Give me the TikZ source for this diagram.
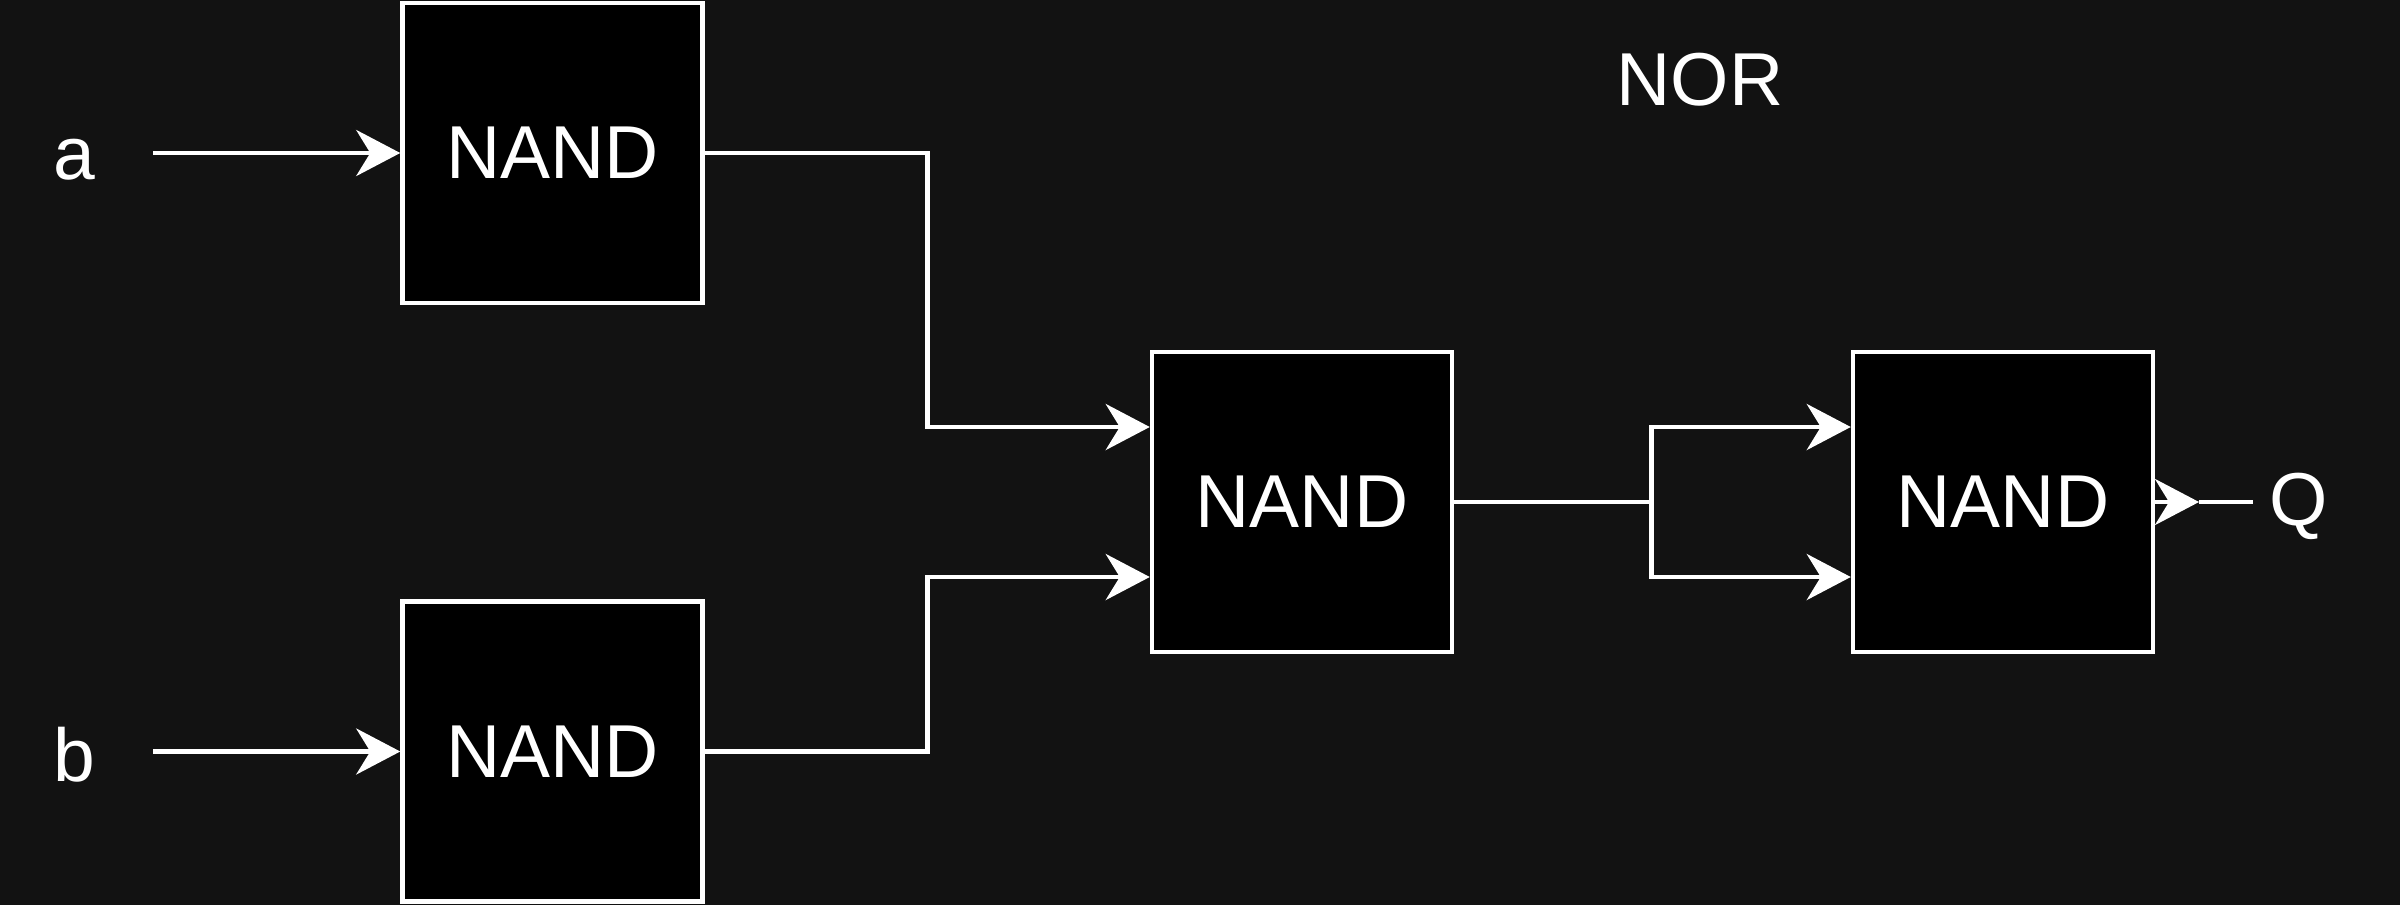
\documentclass[tikz,border=0pt]{standalone}
\usepackage{fontspec}
\setmainfont{Liberation Sans}
\usetikzlibrary{arrows.meta}
\definecolor{bg}{HTML}{121212}
\begin{document}
\begin{tikzpicture}[x=1pt,y=-1pt,
  gate/.style={draw=white,fill=black,line width=4.5pt,minimum width=300pt,minimum height=300pt,inner sep=0pt,text=white,font=\fontsize{75}{90}\selectfont},
  lbl/.style={text=white,inner sep=0pt,font=\fontsize{75}{90}\selectfont},
  wire/.style={draw=white,line width=4.5pt},
  arr/.style={wire,-{Stealth[length=44pt,width=46pt,inset=14pt]}}]
\fill[bg] (0,0) rectangle (2400,905);
\useasboundingbox (0,0) rectangle (2400,905);
\node[gate] (N1) at (552.5,153) {NAND};
\node[gate] (N2) at (552.5,751.5) {NAND};
\node[gate] (N3) at (1302,502) {NAND};
\node[gate] (N4) at (2003,502) {NAND};
\node[lbl] (a) at (74,160) {a};
\node[lbl] (b) at (74,755) {b};
\node[lbl] (nor) at (1700,80) {NOR};
\node[lbl] (q) at (2299,506) {Q};
\coordinate (as) at (153,153);
\coordinate (bs) at (153,751.5);
\coordinate (j1) at (927.5,0);
\coordinate (j2) at (1651.5,0);
\coordinate (qtip) at (2199,502);
\coordinate (qend) at (2253,502);
\draw[arr] (as) -- (N1.west);
\draw[arr] (bs) -- (N2.west);
\draw[arr] (N1.east) -- (N1.east -| j1) |- ([yshift=75pt]N3.west);
\draw[arr] (N2.east) -- (N2.east -| j1) |- ([yshift=-75pt]N3.west);
\draw[wire] (N3.east) -- (N3.east -| j2);
\draw[arr] (N3.east -| j2) |- ([yshift=75pt]N4.west);
\draw[arr] (N3.east -| j2) |- ([yshift=-75pt]N4.west);
\draw[arr] (N4.east) -- (qtip);
\draw[wire] (qtip) -- (qend);
\end{tikzpicture}
\end{document}
